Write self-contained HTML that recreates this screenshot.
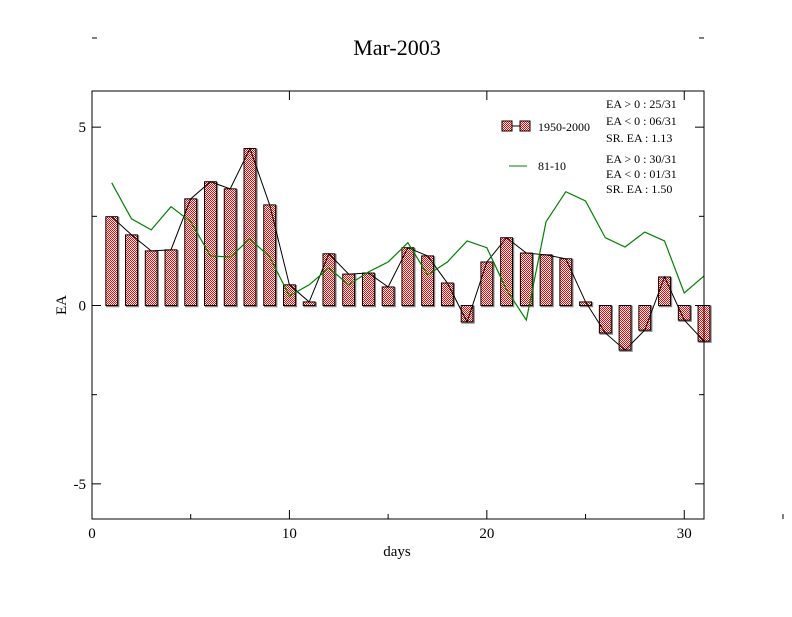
<!DOCTYPE html>
<html><head><meta charset="utf-8"><style>
body{margin:0;background:#fff}
svg text{font-family:"Liberation Serif",serif}
</style></head><body>
<svg id="c" width="792" height="612" viewBox="0 0 792 612" xmlns="http://www.w3.org/2000/svg">
<defs>
<pattern id="chk" width="2" height="2" patternUnits="userSpaceOnUse">
<rect width="2" height="2" fill="#fff"/><rect width="1" height="1" fill="#f00"/><rect x="1" y="1" width="1" height="1" fill="#f00"/>
</pattern>
</defs>
<rect width="792" height="612" fill="#fff"/>
<text x="397" y="55" font-size="22" text-anchor="middle">Mar-2003</text>
<g id="plot"></g>
<rect x="92" y="91" width="612" height="428" fill="none" stroke="#000" stroke-width="1"/>
<text x="397" y="556" font-size="15" text-anchor="middle">days</text>
<text x="66" y="305" font-size="15" text-anchor="middle" transform="rotate(-90 66 305)">EA</text>
<g font-size="12">
<line x1="502" y1="126" x2="530" y2="126" stroke="#000"/>
<rect x="502" y="121" width="10" height="10" fill="url(#chk)" stroke="#000"/>
<rect x="520" y="121" width="10" height="10" fill="url(#chk)" stroke="#000"/>
<text x="538" y="131">1950-2000</text>
<line x1="509" y1="166" x2="527" y2="166" stroke="#008000"/>
<text x="538" y="170">81-10</text>
<text x="606" y="108">EA &gt; 0 : 25/31</text>
<text x="606" y="125">EA &lt; 0 : 06/31</text>
<text x="606" y="142">SR. EA :  1.13</text>
<text x="606" y="163">EA &gt; 0 : 30/31</text>
<text x="606" y="178">EA &lt; 0 : 01/31</text>
<text x="606" y="193">SR. EA :  1.50</text>
</g>
</svg>
<script>
const days=[1,2,3,4,5,6,7,8,9,10,11,12,13,14,15,16,17,18,19,20,21,22,23,24,25,26,27,28,29,30,31];
const ea1950=[2.49,1.98,1.53,1.56,2.99,3.47,3.27,4.40,2.82,0.58,0.10,1.45,0.88,0.91,0.52,1.62,1.39,0.63,-0.46,1.22,1.90,1.47,1.42,1.31,0.10,-0.77,-1.25,-0.69,0.80,-0.41,-1.00];
const ea8110=[3.44,2.43,2.12,2.77,2.35,1.39,1.36,1.87,1.36,0.27,0.58,1.05,0.58,0.94,1.22,1.76,0.86,1.22,1.81,1.62,0.44,-0.41,2.35,3.19,2.93,1.90,1.64,2.06,1.81,0.35,0.83];
const xTicks=[0,10,20,30];
const yTicks=[-5,0,5];
const X=v=>92+v*(612/31);
const Y=v=>305.5-v*35.67;
const NS='http://www.w3.org/2000/svg';
const g=document.getElementById('plot');
function mk(t,a){const e=document.createElementNS(NS,t);for(const k in a)e.setAttribute(k,a[k]);g.appendChild(e);return e;}
const bw=0.6*612/31;
days.forEach((d,i)=>{
 const v=ea1950[i];const top=Math.min(Y(v),Y(0));const h=Math.max(Math.abs(Y(v)-Y(0)),1.5);
 const s=mk('rect',{x:X(d)-bw/2+1,y:top+1,width:bw,height:h,fill:'none',stroke:'#888','stroke-width':1.5});
 
 
 const r=mk('rect',{x:X(d)-bw/2,y:top,width:bw,height:h,fill:'url(#chk)',stroke:'#000','stroke-width':1});
 
 
});
const l1=mk('polyline',{points:days.map((d,i)=>X(d)+','+Y(ea1950[i])).join(' '),fill:'none',stroke:'#000','stroke-width':1});


const l2=mk('polyline',{points:days.map((d,i)=>X(d)+','+Y(ea8110[i])).join(' '),fill:'none',stroke:'#008000','stroke-width':1.2});


xTicks.forEach(t=>{
 const a=mk('line',{x1:X(t),y1:519,x2:X(t),y2:510,stroke:'#000'});
 
 
 const b=mk('line',{x1:X(t),y1:91,x2:X(t),y2:100,stroke:'#000'});
 
 
 const m=mk('line',{x1:X(t+5),y1:519,x2:X(t+5),y2:514,stroke:'#000'});
 
 
 const tx=mk('text',{x:X(t),y:538,'font-size':15,'text-anchor':'middle'});tx.textContent=t;
 
 
});
yTicks.forEach(t=>{
 const a=mk('line',{x1:92,y1:Y(t),x2:101,y2:Y(t),stroke:'#000'});
 
 
 const b=mk('line',{x1:704,y1:Y(t),x2:695,y2:Y(t),stroke:'#000'});
 
 
 const m=mk('line',{x1:92,y1:Y(t+2.5),x2:97,y2:Y(t+2.5),stroke:'#000'});
 
 
 const m2=mk('line',{x1:704,y1:Y(t+2.5),x2:699,y2:Y(t+2.5),stroke:'#000'});
 
 
 const tx=mk('text',{x:86,y:Y(t)+5,'font-size':15,'text-anchor':'end'});tx.textContent=t;
 
 
});
</script>
</body></html>
